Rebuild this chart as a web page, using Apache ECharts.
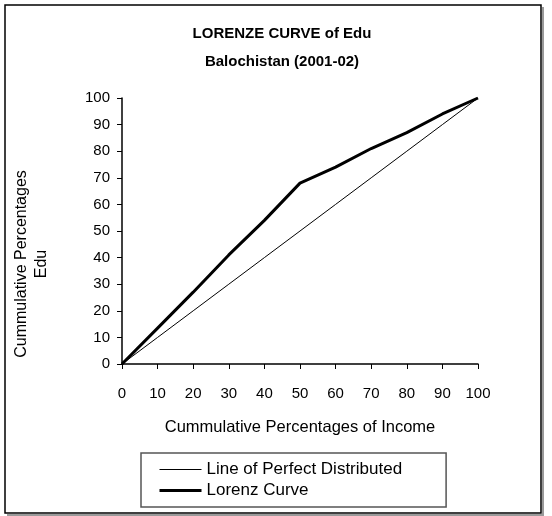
<!DOCTYPE html>
<html>
<head>
<meta charset="utf-8">
<script src="https://cdn.jsdelivr.net/npm/echarts@6/dist/echarts.min.js"></script>
<style>
  html, body { margin: 0; padding: 0; background: #fff; }
  #chart { width: 552px; height: 516px; }
</style>
</head>
<body>
<div id="chart"></div>
<script>
const xValues = [0, 10, 20, 30, 40, 50, 60, 70, 80, 90, 100];
const perfectLine = [0, 10, 20, 30, 40, 50, 60, 70, 80, 90, 100];
const lorenzCurve = [0, 13.5, 27, 41, 54, 68, 74, 81, 87, 94, 100];
const seriesNames = ['Line of Perfect Distributed', 'Lorenz Curve'];
const titleLines = ['LORENZE CURVE of Edu', 'Balochistan (2001-02)'];
const xAxisName = 'Cummulative Percentages of Income';
const yAxisName = 'Cummulative Percentages\nEdu';

const FONT = 'Liberation Sans, Arial, sans-serif';
const chart = echarts.init(document.getElementById('chart'), null, { renderer: 'canvas' });

const toPairs = (ys) => xValues.map((x, i) => [x, ys[i]]);
const lineWidths = [1, 3];

chart.setOption({
  animation: false,
  backgroundColor: '#ffffff',
  graphic: [
    { type: 'polyline', shape: { points: [[543, 7], [543, 515], [7, 515]] }, style: { fill: 'none', stroke: '#9a9a9a', lineWidth: 2 }, silent: true, z: -1 },
    { type: 'rect', shape: { x: 5, y: 5, width: 536, height: 508 }, style: { fill: 'none', stroke: '#000', lineWidth: 1.5 }, silent: true, z: -1 }
  ],
  title: {
    text: titleLines.join('\n'),
    left: 277, top: 15, textAlign: 'center',
    textStyle: { fontFamily: FONT, fontSize: 15, fontWeight: 'bold', color: '#000', lineHeight: 28 }
  },
  grid: { left: 122, right: 74, top: 98, bottom: 152, containLabel: false },
  legend: {
    orient: 'vertical',
    left: 141, top: 453,
    padding: [8, 44, 8, 17],
    borderColor: '#555', borderWidth: 1.5,
    backgroundColor: '#fff',
    itemWidth: 42, itemHeight: 14, itemGap: 4,
    itemStyle: { color: 'rgba(0,0,0,0)', borderWidth: 0, opacity: 0 },
    textStyle: { fontFamily: FONT, fontSize: 17, color: '#000' },
    data: seriesNames.map((n, i) => ({ name: n, lineStyle: { color: '#000', width: lineWidths[i] } }))
  },
  xAxis: {
    type: 'value', min: 0, max: 100, interval: 10,
    name: xAxisName, nameLocation: 'middle', nameGap: 55,
    nameTextStyle: { fontFamily: FONT, fontSize: 16.5, color: '#000' },
    axisLine: { show: true, lineStyle: { color: '#000', width: 1.5 } },
    axisTick: { show: true, length: 5, lineStyle: { color: '#000' } },
    axisLabel: { fontFamily: FONT, fontSize: 15, color: '#000', margin: 22 },
    splitLine: { show: false }
  },
  yAxis: {
    type: 'value', min: 0, max: 100, interval: 10,
    name: yAxisName, nameLocation: 'middle', nameGap: 70, nameRotate: 90,
    nameTextStyle: { fontFamily: FONT, fontSize: 16, color: '#000', lineHeight: 20, align: 'center', padding: [0, 66, 0, 0] },
    axisLine: { show: true, lineStyle: { color: '#000', width: 1.5 } },
    axisTick: { show: true, length: 5, lineStyle: { color: '#000' } },
    axisLabel: { fontFamily: FONT, fontSize: 15, color: '#000', margin: 12 },
    splitLine: { show: false }
  },
  series: [
    {
      name: seriesNames[0], type: 'line', data: toPairs(perfectLine),
      symbol: 'none', lineStyle: { color: '#000', width: lineWidths[0] }, z: 2
    },
    {
      name: seriesNames[1], type: 'line', data: toPairs(lorenzCurve),
      symbol: 'none', lineStyle: { color: '#000', width: lineWidths[1] }, z: 3
    }
  ]
});
</script>
</body>
</html>
